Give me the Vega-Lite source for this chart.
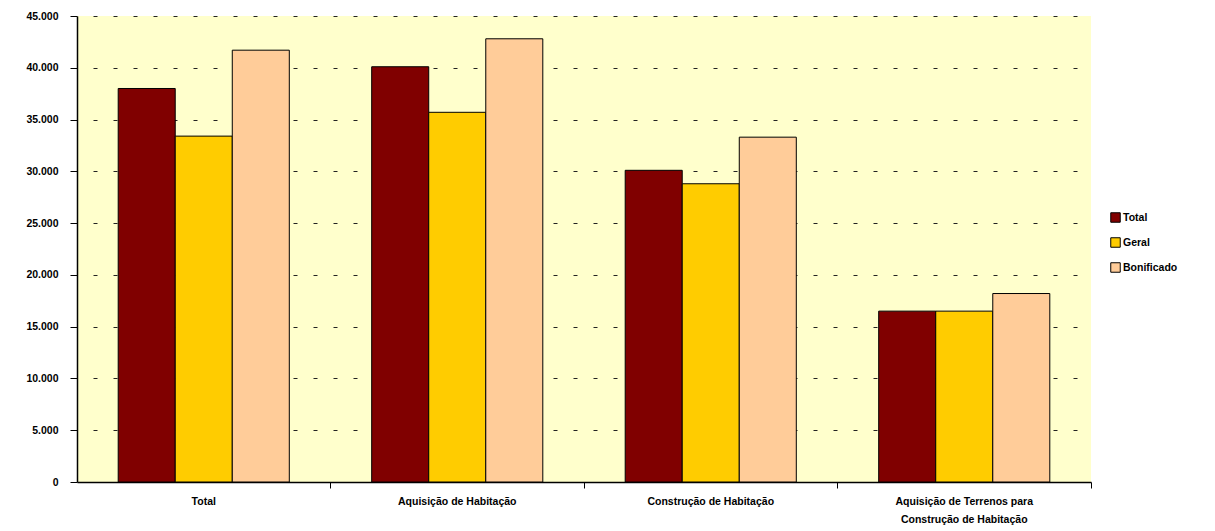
{
  "$schema": "https://vega.github.io/schema/vega-lite/v6.json",
  "width": 1014,
  "height": 466,
  "autosize": {"type": "none"},
  "padding": {"left": 77, "top": 16, "right": 124, "bottom": 49},
  "background": "#FFFFFF",
  "config": {
    "font": "Liberation Sans",
    "view": {"fill": "#FFFFCC", "stroke": null}
  },
  "data": {
    "values": [
      {"categoria": "Total", "tipo": "Total", "valor": 38000},
      {"categoria": "Total", "tipo": "Geral", "valor": 33400},
      {"categoria": "Total", "tipo": "Bonificado", "valor": 41700},
      {"categoria": "Aquisição de Habitação", "tipo": "Total", "valor": 40100},
      {"categoria": "Aquisição de Habitação", "tipo": "Geral", "valor": 35700},
      {"categoria": "Aquisição de Habitação", "tipo": "Bonificado", "valor": 42800},
      {"categoria": "Construção de Habitação", "tipo": "Total", "valor": 30100},
      {"categoria": "Construção de Habitação", "tipo": "Geral", "valor": 28800},
      {"categoria": "Construção de Habitação", "tipo": "Bonificado", "valor": 33300},
      {"categoria": "Aquisição de Terrenos para Construção de Habitação", "tipo": "Total", "valor": 16500},
      {"categoria": "Aquisição de Terrenos para Construção de Habitação", "tipo": "Geral", "valor": 16500},
      {"categoria": "Aquisição de Terrenos para Construção de Habitação", "tipo": "Bonificado", "valor": 18200}
    ]
  },
  "layer": [
    {
      "mark": {"type": "bar", "stroke": "#000000", "strokeWidth": 1},
      "encoding": {
        "x": {
          "field": "categoria",
          "type": "nominal",
          "sort": null,
          "scale": {"paddingInner": 0.325, "paddingOuter": 0.1625},
          "axis": {
            "title": null,
            "labelAngle": 0,
            "labelFont": "Liberation Sans",
            "labelFontWeight": "bold",
            "labelFontSize": 10.5,
            "labelColor": "#000000",
            "labelPadding": 14,
            "labelLineHeight": 18,
            "labelLimit": 400,
            "labelExpr": "datum.label == 'Aquisição de Terrenos para Construção de Habitação' ? ['Aquisição de Terrenos para', 'Construção de Habitação'] : datum.label",
            "ticks": false,
            "domainColor": "#000000",
            "domainWidth": 1.5
          }
        },
        "xOffset": {"field": "tipo", "type": "nominal", "sort": ["Total", "Geral", "Bonificado"]},
        "y": {
          "field": "valor",
          "type": "quantitative",
          "scale": {"domain": [0, 45000], "nice": false},
          "axis": {
            "title": null,
            "values": [0, 5000, 10000, 15000, 20000, 25000, 30000, 35000, 40000, 45000],
            "format": ",.0f",
            "labelExpr": "replace(datum.label, ',', '.')",
            "labelFont": "Liberation Sans",
            "labelFontWeight": "bold",
            "labelFontSize": 10.5,
            "labelColor": "#000000",
            "labelPadding": 12,
            "tickColor": "#000000",
            "tickSize": 7,
            "domainColor": "#000000",
            "domainWidth": 1.5,
            "grid": true,
            "gridColor": "#222222",
            "gridDash": [4, 16],
            "gridDashOffset": -16,
            "gridWidth": 1
          }
        },
        "color": {
          "field": "tipo",
          "type": "nominal",
          "sort": ["Total", "Geral", "Bonificado"],
          "scale": {"domain": ["Total", "Geral", "Bonificado"], "range": ["#800000", "#FFCC00", "#FFCC99"]},
          "legend": {
            "title": null,
            "orient": "none",
            "legendX": 1033,
            "legendY": 196,
            "symbolType": "square",
            "symbolSize": 90,
            "symbolStrokeColor": "#000000",
            "symbolStrokeWidth": 1,
            "labelFont": "Liberation Sans",
            "labelFontWeight": "bold",
            "labelFontSize": 10.5,
            "labelColor": "#000000",
            "labelOffset": 2,
            "rowPadding": 10
          }
        }
      }
    },
    {
      "mark": {"type": "bar", "opacity": 0},
      "encoding": {
        "x": {
          "field": "categoria",
          "type": "nominal",
          "sort": null,
          "scale": {"paddingInner": 0.325, "paddingOuter": 0.1625},
          "axis": {
            "orient": "bottom",
            "title": null,
            "labels": false,
            "domain": false,
            "grid": false,
            "ticks": true,
            "bandPosition": 1.241,
            "tickSize": 6,
            "tickColor": "#000000",
            "tickWidth": 1
          }
        }
      }
    }
  ],
  "resolve": {"axis": {"x": "independent"}}
}
